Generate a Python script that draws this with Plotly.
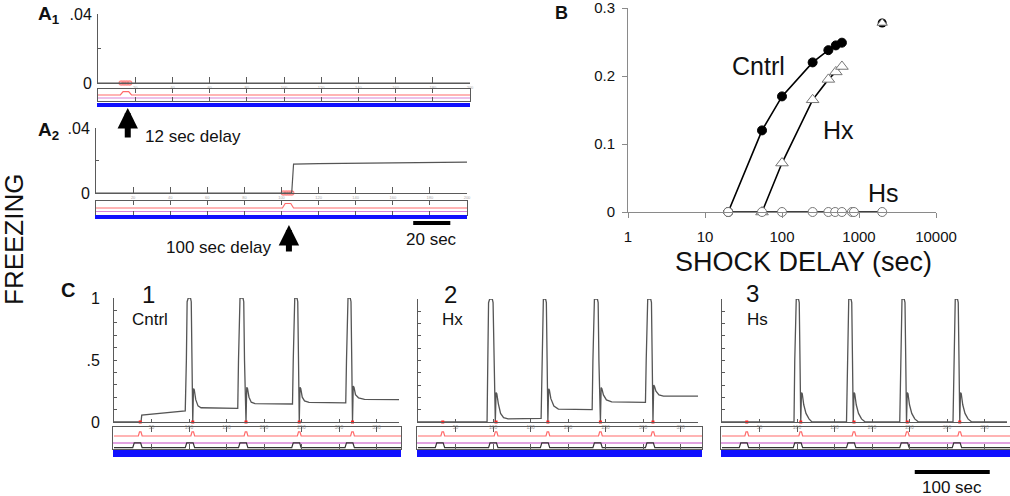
import plotly.graph_objects as go

W, H = 1010, 496
FONT = "Arial, Liberation Sans, Helvetica, sans-serif"

# ---------------- data ----------------
# Panel A: freezing over time (sec)
A1_time = [0, 200]
A1_freeze = [0, 0]
A1_shock = [12.5, 14, 15.5, 17]
A2_time = [0, 105.5, 106.5, 120, 200]
A2_freeze = [0, 0, 0.0178, 0.0181, 0.0190]
A2_shock = [101, 102.5, 104, 105.5]
A_xticks = [20, 40, 60, 80, 100, 120, 140, 160, 180, 200]
A_xticktext = ["20", "40", "60", "80", "100", "120", "140", "160", "180", "200"]
A_yticks = [0, 0.02, 0.04]
A_yticktext = ["0", "", ".04"]

# Panel B: freezing vs shock delay
B_cntrl_delay = [20, 55, 100, 250, 400, 500, 600]
B_cntrl = [0, 0.12, 0.17, 0.22, 0.238, 0.245, 0.249]
B_hx_delay = [55, 100, 250, 400, 500, 600]
B_hx = [0, 0.072, 0.165, 0.195, 0.206, 0.214]
B_hs_delay = [20, 55, 100, 250, 400, 490, 600, 810, 860, 2000]
B_hs = [0, 0, 0, 0, 0, 0, 0, 0, 0, 0]
B_long_delay = [2000]
B_long_cntrl = [0.278]
B_long_hx = [0.278]
B_xticks = [1, 10, 100, 1000, 10000]
B_xticktext = ["1", "10", "100", "1000", "10000"]
B_yticks = [0, 0.1, 0.2, 0.3]
B_yticktext = ["0", "0.1", "0.2", "0.3"]

# Panel C: freezing traces with repeated shocks
C1_time = [0, 36, 37, 95, 96.5, 97.5, 99, 102, 103, 104, 105, 106, 107, 109, 112, 116,
           165, 166, 167, 168, 172, 173, 174, 176, 177, 178, 180, 183, 188,
           238, 239, 240, 241, 244, 245, 246, 247, 248, 249, 251, 254, 260,
           309, 310, 311, 312, 315, 316, 317, 318, 319, 320, 322, 326, 334, 380]
C1_freeze = [0, 0, 0.056, 0.09, 0.5, 0.97, 1, 1, 0.97, 0.5, 0, 0.27, 0.26, 0.18, 0.13, 0.115,
             0.11, 0.5, 0.97, 1, 1, 0.97, 0.5, 0, 0.28, 0.27, 0.2, 0.16, 0.148,
             0.145, 0.5, 0.97, 1, 1, 0.97, 0.5, 0, 0.28, 0.27, 0.2, 0.17, 0.158,
             0.155, 0.5, 0.97, 1, 1, 0.97, 0.5, 0, 0.29, 0.28, 0.22, 0.195, 0.182, 0.18]
C1_shock = [35, 105, 176, 247, 318]

C2_time = [0, 92, 93, 94, 95.5, 99, 100, 101, 103, 104, 105, 107, 110, 114, 120,
           164, 165, 166, 167, 170, 171, 172, 173, 174, 175, 177, 181, 187,
           232, 233, 234, 235, 239, 240, 241, 243, 244, 245, 247, 251, 258,
           303, 304, 305, 306, 310, 311, 312, 313, 314, 315, 317, 321, 327, 373]
C2_freeze = [0, 0, 0.5, 0.97, 1, 1, 0.97, 0.5, 0, 0.24, 0.23, 0.15, 0.07, 0.035, 0.025,
             0.03, 0.5, 0.97, 1, 1, 0.97, 0.5, 0, 0.27, 0.26, 0.19, 0.13, 0.105,
             0.1, 0.5, 0.97, 1, 1, 0.97, 0.5, 0, 0.28, 0.27, 0.22, 0.18, 0.163,
             0.16, 0.5, 0.97, 1, 1, 0.97, 0.5, 0, 0.3, 0.29, 0.25, 0.22, 0.21, 0.21]
C2_shock = [33, 104, 173, 243, 313]

C3_time = [0, 96, 97, 98, 99, 102, 103, 104, 105, 106, 107, 109, 112, 116, 120,
           166, 167, 168, 169, 172, 173, 174, 175, 176, 177, 179, 182, 186, 191,
           237, 238, 239, 240, 243, 244, 245, 246, 247, 248, 250, 253, 257, 262,
           308, 309, 310, 311, 314, 315, 316, 317, 318, 319, 321, 324, 328, 333, 380]
C3_freeze = [0, 0, 0.5, 0.97, 1, 1, 0.97, 0.5, 0, 0.24, 0.23, 0.14, 0.07, 0.025, 0,
             0, 0.5, 0.97, 1, 1, 0.97, 0.5, 0, 0.24, 0.23, 0.14, 0.07, 0.025, 0,
             0, 0.5, 0.97, 1, 1, 0.97, 0.5, 0, 0.24, 0.23, 0.14, 0.07, 0.025, 0,
             0, 0.5, 0.97, 1, 1, 0.97, 0.5, 0, 0.24, 0.23, 0.14, 0.07, 0.025, 0, 0]
C3_shock = [33, 105, 176, 247, 317]

C_xticks = [50, 100, 150, 200, 250, 300, 350]
C_xticktext = ["50", "100", "150", "200", "250", "300", "350"]
C_yticks = [0, 0.1, 0.2, 0.3, 0.4, 0.5, 0.6, 0.7, 0.8, 0.9, 1.0]
C_yticktext = ["0", "", "", "", "", ".5", "", "", "", "", "1"]

# event-channel levels inside the small boxes (fraction of box height)
A_red_level, A_red_peak, A_pink_level = 0.5, 0.78, 0.25
C_red_level, C_red_peak, C_pink_level = 0.59, 0.78, 0.27
C_blk_level, C_blk_peak = 0.06, 0.28

# ---------------- helpers ----------------
GRAY = "#5a5a5a"
TRACE = "#555555"
RED = "#ff6b6b"
PINK = "#d884d8"
BLUE = "#1010ff"


def dx(x0, x1):
    return [x0 / W, x1 / W]


def dy(y0, y1):
    return [1 - y1 / H, 1 - y0 / H]


def px(x):
    return x / W


def py(y):
    return 1 - y / H


layout = dict(template="none", width=W, height=H, margin=dict(l=0, r=0, t=0, b=0, pad=0),
              paper_bgcolor="white", plot_bgcolor="rgba(0,0,0,0)",
              showlegend=False, font=dict(family=FONT, color="#111", size=14))
traces = []
annotations = []
shapes = []


def ax_name(n, k):
    return k + ("axis" if n == 1 else "axis%d" % n)


def ref(n, k):
    return k if n == 1 else "%s%d" % (k, n)


def add_axes(n, xdom, ydom, xax, yax):
    xa = dict(domain=xdom, anchor=ref(n, "y"), showgrid=False, zeroline=False,
              automargin=False, fixedrange=True, ticklabeloverflow="allow")
    ya = dict(domain=ydom, anchor=ref(n, "x"), showgrid=False, zeroline=False,
              automargin=False, fixedrange=True, ticklabeloverflow="allow")
    xa.update(xax)
    ya.update(yax)
    layout[ax_name(n, "x")] = xa
    layout[ax_name(n, "y")] = ya


def add(n, **kw):
    tr = go.Scatter(xaxis=ref(n, "x"), yaxis=ref(n, "y"), hoverinfo="skip", **kw)
    traces.append(tr)


def hidden(rng):
    return dict(range=rng, visible=False)


def pulse_series(times, base, peak, pre, rise, hold, post, t_end):
    xs, ys = [0], [base]
    for s in times:
        xs += [s - pre, s - pre + rise, s + hold - rise, s + hold]
        ys += [base, peak, peak, base]
    xs.append(t_end)
    ys.append(base)
    return xs, ys


def ann(text, x, y, size, xanchor="center", angle=0, color="#111"):
    annotations.append(dict(text=text, x=px(x), y=py(y), xref="paper", yref="paper",
                            xanchor=xanchor, yanchor="middle", showarrow=False,
                            textangle=angle, font=dict(size=size, color=color, family=FONT)))


# ---------------- Panel A ----------------
def panel_A(n0, x0, x1, ymain, ybox, yblue, t, f, shock, red_pk):
    rng = [0, 200]
    add_axes(n0, dx(x0, x1), dy(*ymain),
             dict(range=rng, showline=True, linecolor=GRAY, linewidth=1,
                  ticks="inside", ticklen=6, tickcolor=GRAY, tickvals=A_xticks,
                  ticktext=A_xticktext, tickfont=dict(size=4, color="#aaa")),
             dict(range=[0, 0.04], showline=True, linecolor=GRAY, linewidth=1,
                  ticks="inside", ticklen=3, tickcolor=GRAY, tickvals=A_yticks,
                  ticktext=A_yticktext, tickfont=dict(size=16, color="#111"),
                  ticklabelstandoff=2))
    add(n0, x=shock, y=[0] * len(shock), mode="markers", cliponaxis=False,
        marker=dict(size=4, color="#ff8a8a", symbol="circle-open", line=dict(width=1.5, color="#ff8a8a")))
    add(n0, x=t, y=f, mode="lines", line=dict(color=TRACE, width=1.2))
    # event box
    add_axes(n0 + 1, dx(x0, x1), dy(*ybox),
             dict(range=rng, showline=True, mirror="ticks", linecolor=GRAY, linewidth=1,
                  ticks="inside", ticklen=4, tickcolor=GRAY, tickvals=A_xticks,
                  showticklabels=False),
             dict(range=[0, 1], showline=True, mirror=True, linecolor=GRAY, linewidth=1,
                  showticklabels=False, ticks=""))
    rx, ry = pulse_series([shock[0]], A_red_level, red_pk, 0.5, 1.5,
                          shock[-1] - shock[0] + 1.0, 0, 200)
    add(n0 + 1, x=rx, y=ry, mode="lines", line=dict(color=RED, width=1.2))
    add(n0 + 1, x=[0, 200], y=[A_pink_level, A_pink_level], mode="lines",
        line=dict(color=PINK, width=1.2))
    # blue channel
    add_axes(n0 + 2, dx(x0 - 1, x1), dy(*yblue), hidden(rng), hidden([0, 1]))
    add(n0 + 2, x=[0, 200], y=[0.5, 0.5], mode="lines", line=dict(color=BLUE, width=4))


panel_A(1, 98, 470, (14, 83), (89, 101), (101, 109), A1_time, A1_freeze, A1_shock, A_red_peak)
panel_A(4, 96, 467, (128, 193), (201, 215), (213, 221), A2_time, A2_freeze, A2_shock, 0.82)

ann("<b>A<sub>1</sub></b>", 36, 15, 19, xanchor="left")
ann("<b>A<sub>2</sub></b>", 36, 131, 19, xanchor="left")

# arrows
annotations.append(dict(x=16, y=py(108), xref="x", yref="paper", ax=0, ay=31,
                        axref="pixel", ayref="pixel", text="", showarrow=True,
                        arrowhead=2, arrowsize=0.68, arrowwidth=6, arrowcolor="#000"))
annotations.append(dict(x=104, y=py(225), xref="x4", yref="paper", ax=0, ay=28,
                        axref="pixel", ayref="pixel", text="", showarrow=True,
                        arrowhead=2, arrowsize=0.68, arrowwidth=6, arrowcolor="#000"))
ann("12 sec delay", 143, 137, 17, xanchor="left")
ann("100 sec delay", 273, 247, 17, xanchor="right")
# 20 sec scale bar
shapes.append(dict(type="line", xref="x4", yref="paper", x0=171, x1=191,
                   y0=py(223), y1=py(223), line=dict(color="#000", width=4)))
ann("20 sec", 431, 239, 17)

# ---------------- Panel B ----------------
nB = 7
add_axes(nB, dx(628, 936), dy(8, 212),
         dict(type="log", range=[0, 4], showline=True, linecolor="#8a8a8a", linewidth=1,
              ticks="outside", ticklen=5, tickcolor="#8a8a8a", tickvals=B_xticks,
              ticktext=B_xticktext, tickfont=dict(size=15, color="#111"),
              ticklabelstandoff=6),
         dict(range=[0, 0.3], showline=True, linecolor="#8a8a8a", linewidth=1,
              ticks="outside", ticklen=5, tickcolor="#8a8a8a", tickvals=B_yticks,
              ticktext=B_yticktext, tickfont=dict(size=15, color="#111"),
              ticklabelstandoff=4))
add(nB, x=B_cntrl_delay, y=B_cntrl, mode="lines+markers", cliponaxis=False,
    line=dict(color="#000", width=1.6),
    marker=dict(symbol="circle", size=9, color="#000", line=dict(color="#000", width=1)))
add(nB, x=B_hx_delay, y=B_hx, mode="lines+markers", cliponaxis=False,
    line=dict(color="#000", width=1.6),
    marker=dict(symbol="triangle-up", size=11, color="white", line=dict(color="#777", width=1)))
add(nB, x=B_long_delay, y=B_long_cntrl, mode="markers", cliponaxis=False,
    marker=dict(symbol="circle", size=9, color="#000"))
add(nB, x=B_long_delay, y=B_long_hx, mode="markers", cliponaxis=False,
    marker=dict(symbol="triangle-up", size=9, color="white", line=dict(color="#666", width=1)))
add(nB, x=B_hs_delay, y=B_hs, mode="lines+markers", cliponaxis=False,
    line=dict(color="#000", width=1.6),
    marker=dict(symbol="circle", size=9, color="white", line=dict(color="#777", width=1)))
ann("<b>B</b>", 553, 13, 18, xanchor="left")
ann("Cntrl", 758, 66, 25)
ann("Hx", 838, 130, 25)
ann("Hs", 883, 193, 25)
ann("SHOCK DELAY (sec)", 803, 262, 27)

# ---------------- Panel C ----------------
def panel_C(n0, x0, x1, ytop, t, f, shock, tmax, box_x1, show_y):
    rng = [0, tmax]
    add_axes(n0, dx(x0, x1), dy(ytop, 422),
             dict(range=rng, showline=True, linecolor=GRAY, linewidth=1,
                  ticks="inside", ticklen=3, tickcolor=GRAY, tickvals=C_xticks,
                  ticktext=C_xticktext, tickfont=dict(size=5, color="#999"),
                  ticklabelstandoff=0),
             dict(range=[0, 1], showline=True, linecolor=GRAY, linewidth=1,
                  ticks="inside", ticklen=3, tickcolor=GRAY, tickvals=C_yticks,
                  ticktext=C_yticktext, showticklabels=show_y,
                  tickfont=dict(size=16, color="#111"), ticklabelstandoff=10))
    add(n0, x=t, y=f, mode="lines", line=dict(color=TRACE, width=1.3))
    add(n0, x=shock, y=[0] * len(shock), mode="markers", cliponaxis=False,
        marker=dict(symbol="square", size=3, color="#ff2020"))
    # event box
    sc = (x1 - x0) / tmax
    brng = [(x0 - 1 - x0) / sc, (box_x1 - x0) / sc]
    add_axes(n0 + 1, dx(x0 - 1, box_x1), dy(427, 449),
             dict(range=brng, showline=True, mirror="ticks", linecolor=GRAY, linewidth=1,
                  ticks="inside", ticklen=5, tickcolor=GRAY, tickvals=C_xticks,
                  showticklabels=False),
             dict(range=[0, 1], showline=True, mirror=True, linecolor=GRAY, linewidth=1,
                  showticklabels=False, ticks=""))
    rx, ry = pulse_series(shock, C_red_level, C_red_peak, 2.5, 1.5, 2.5, 0, brng[1])
    add(n0 + 1, x=rx, y=ry, mode="lines", line=dict(color=RED, width=1.2))
    add(n0 + 1, x=[brng[0], brng[1]], y=[C_pink_level, C_pink_level], mode="lines",
        line=dict(color=PINK, width=1.4))
    bx, by = pulse_series(shock, C_blk_level, C_blk_peak, 10, 2, 2.5, 0, brng[1])
    add(n0 + 1, x=bx, y=by, mode="lines", line=dict(color="#333", width=1.2))
    # blue channel
    add_axes(n0 + 2, dx(x0 - 1, box_x1), dy(449, 458), hidden(brng), hidden([0, 1]))
    add(n0 + 2, x=[brng[0], brng[1]], y=[0.5, 0.5], mode="lines",
        line=dict(color=BLUE, width=7))


panel_C(8, 114, 399, 298, C1_time, C1_freeze, C1_shock, 380, 401, True)
panel_C(11, 418, 698, 299, C2_time, C2_freeze, C2_shock, 373, 702, False)
panel_C(14, 722, 1007, 299, C3_time, C3_freeze, C3_shock, 380, 1010, False)

ann("<b>C</b>", 68, 290, 20)
ann("FREEZING", 14, 240, 26, angle=-90)
ann("1", 148, 294, 24)
ann("Cntrl", 150, 319, 17)
ann("2", 450, 294, 24)
ann("Hx", 452, 319, 17)
ann("3", 752, 293, 24)
ann("Hs", 757, 319, 17)
# 100 sec scale bar (C3 time axis)
shapes.append(dict(type="line", xref="x14", yref="paper", x0=257, x1=357,
                   y0=py(472), y1=py(472), line=dict(color="#000", width=4)))
ann("100 sec", 952, 487, 17)

layout["annotations"] = annotations
layout["shapes"] = shapes
fig = go.Figure(data=traces, layout=layout)
fig.write_html("out.html", config=dict(displayModeBar=False, staticPlot=True),
               post_script="document.body.style.margin='0';document.body.style.overflow='hidden';")
